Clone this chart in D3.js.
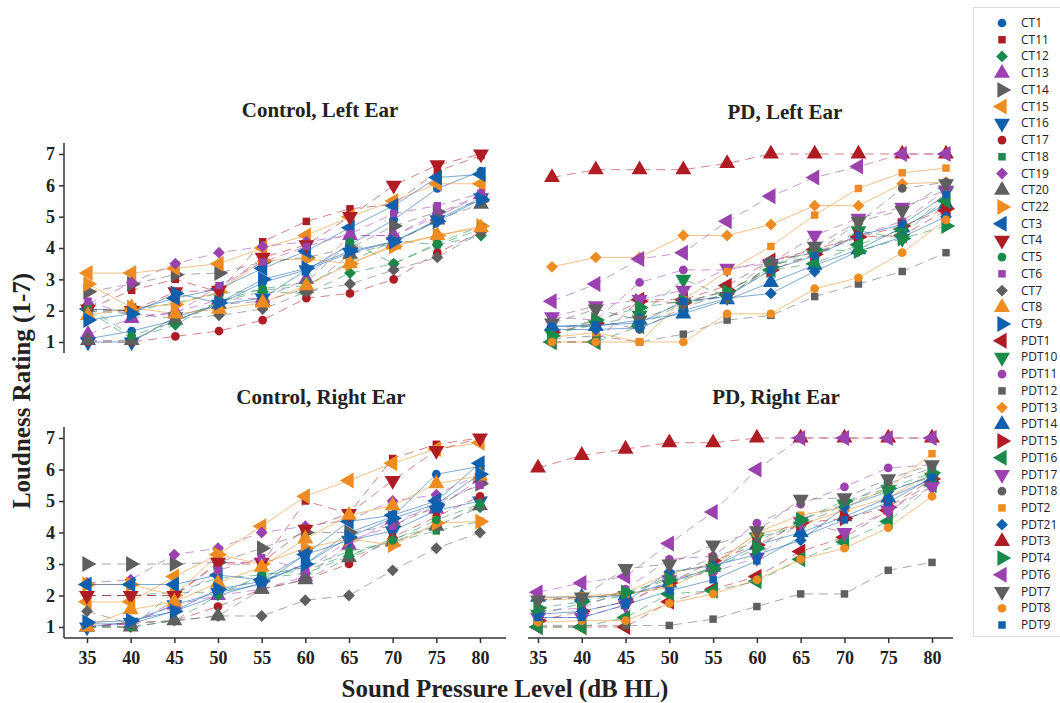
<!DOCTYPE html>
<html>
<head>
<meta charset="utf-8"/>
<script src="https://cdn.jsdelivr.net/npm/d3@7"></script>
<title>Loudness ratings</title>
<style>
body { margin: 0; background: #fff; }
.tick text { font-family: "Liberation Serif", "Times New Roman", serif; font-weight: bold; font-size: 18px; fill: #222; }
.ttl { font-family: "Liberation Serif", "Times New Roman", serif; font-weight: bold; fill: #222; }
.leg text { font-family: "Open Sans", "Noto Sans", sans-serif; font-size: 12px; fill: #222; }
</style>
</head>
<body>
<script>
// x values (dB HL) and y ticks
var levels = [35, 40, 45, 50, 55, 60, 65, 70, 75, 80];
var ratingTicks = [1, 2, 3, 4, 5, 6, 7];

var ctNames = ["CT1","CT11","CT12","CT13","CT14","CT15","CT16","CT17","CT18","CT19","CT20","CT22","CT3","CT4","CT5","CT6","CT7","CT8","CT9"];
var pdNames = ["PDT1","PDT10","PDT11","PDT12","PDT13","PDT14","PDT15","PDT16","PDT17","PDT18","PDT2","PDT21","PDT3","PDT4","PDT6","PDT7","PDT8","PDT9"];

// Control, left ear (one row per ctNames entry)
var ctLeft = [
 [1.1, 1.35, 1.7, 2.2, 2.9, 3.3, 4.1, 4.9, 5.9, 6.45],
 [2.05, 2.65, 3.0, 2.6, 4.2, 4.85, 5.25, 5.4, 6.45, 6.95],
 [2.0, 1.1, 1.55, 2.3, 2.6, 2.55, 3.2, 3.5, 4.1, 4.4],
 [1.25, 1.75, 1.95, 2.35, 2.4, 3.0, 4.4, 4.4, 5.0, 5.7],
 [2.6, 2.85, 3.15, 3.2, 3.55, 3.7, 4.0, 4.7, 5.15, 5.5],
 [3.2, 3.2, 3.35, 3.5, 4.0, 4.4, 5.0, 5.5, 6.05, 6.05],
 [1.0, 1.0, 1.8, 2.2, 2.4, 3.3, 3.85, 4.2, 4.9, 5.6],
 [1.0, 1.0, 1.18, 1.35, 1.7, 2.4, 2.55, 3.0, 3.85, 4.5],
 [2.0, 2.0, 2.25, 2.55, 2.65, 2.8, 3.55, 4.25, 4.1, 4.6],
 [2.2, 2.9, 3.5, 3.85, 4.05, 4.2, 4.4, 4.4, 5.1, 5.7],
 [1.05, 1.05, 1.7, 2.2, 2.3, 2.7, 3.8, 4.15, 4.9, 5.4],
 [2.85, 2.1, 2.2, 2.6, 3.6, 3.65, 3.5, 4.05, 4.4, 4.7],
 [2.05, 2.0, 2.4, 2.7, 3.35, 3.9, 4.65, 5.35, 6.25, 6.35],
 [2.05, 2.0, 2.6, 2.65, 3.7, 4.1, 5.0, 6.0, 6.65, 7.0],
 [2.1, 1.2, 1.65, 2.3, 2.7, 2.9, 4.2, 3.5, 4.15, 4.7],
 [2.3, 1.85, 1.9, 2.8, 3.55, 4.05, 4.45, 5.1, 5.35, 5.75],
 [2.0, 1.9, 1.75, 1.85, 2.05, 2.6, 2.85, 3.3, 3.7, 4.5],
 [1.85, 2.1, 1.9, 2.05, 2.25, 2.8, 3.5, 4.1, 4.4, 4.65],
 [1.7, 1.9, 2.55, 2.25, 3.0, 3.35, 3.9, 4.2, 4.85, 5.55]
];

// Control, right ear
var ctRight = [
 [1.1, 1.1, 1.5, 2.0, 2.4, 3.0, 4.0, 4.5, 5.85, 6.1],
 [2.0, 2.0, 2.0, 3.0, 3.0, 5.0, 4.6, 6.35, 6.8, 7.0],
 [1.0, 1.0, 2.1, 2.1, 2.55, 2.7, 3.25, 3.8, 4.2, 4.8],
 [1.0, 1.1, 1.7, 2.0, 2.2, 2.6, 3.6, 4.4, 4.75, 5.7],
 [3.0, 3.0, 3.0, 3.05, 3.5, 4.0, 4.0, 4.2, 4.85, 5.55],
 [1.8, 1.8, 2.6, 3.3, 4.2, 5.15, 5.65, 6.2, 6.65, 6.85],
 [1.0, 1.15, 1.7, 2.1, 2.35, 3.3, 3.75, 4.05, 4.7, 5.0],
 [1.0, 1.15, 1.2, 1.65, 2.2, 2.5, 3.0, 3.85, 4.5, 5.15],
 [2.0, 2.0, 2.1, 2.55, 2.65, 2.9, 3.4, 3.7, 4.05, 4.35],
 [2.4, 2.5, 3.3, 3.5, 4.0, 4.2, 4.4, 5.0, 5.2, 5.85],
 [1.0, 1.0, 1.2, 1.35, 2.2, 2.5, 3.2, 3.7, 4.2, 4.85],
 [2.35, 2.35, 2.0, 3.3, 3.0, 3.5, 3.8, 3.6, 4.3, 4.35],
 [2.35, 2.35, 2.35, 2.65, 2.5, 3.3, 4.35, 4.55, 5.0, 6.2],
 [2.0, 2.0, 2.0, 3.05, 3.05, 4.1, 4.6, 5.65, 6.6, 7.0],
 [1.0, 1.0, 1.2, 2.0, 2.65, 2.8, 3.3, 3.75, 4.4, 4.9],
 [1.0, 1.1, 1.8, 2.8, 3.2, 2.8, 3.75, 4.2, 4.95, 5.5],
 [1.5, 1.1, 1.2, 1.35, 1.35, 1.85, 2.0, 2.8, 3.5, 4.0],
 [1.0, 1.55, 1.8, 2.4, 2.9, 3.8, 4.55, 4.85, 5.55, 5.8],
 [1.15, 1.2, 1.5, 2.2, 2.45, 3.0, 3.85, 4.45, 4.9, 5.85]
];

// PD, left ear (one row per pdNames entry)
var pdLeft = [
 [1.0, 1.0, 2.35, 2.35, 2.8, 3.6, 3.95, 4.35, 4.4, 5.2],
 [1.25, 1.55, 1.85, 3.0, 2.45, 3.45, 3.75, 4.55, 4.3, 5.8],
 [1.8, 1.7, 2.9, 3.3, 3.3, 3.6, 3.85, 4.4, 4.85, 5.85],
 [1.1, 1.2, 1.0, 1.25, 1.7, 1.85, 2.45, 2.85, 3.25, 3.85],
 [3.4, 3.7, 3.7, 4.4, 4.4, 4.75, 5.35, 5.35, 6.05, 6.1],
 [1.5, 1.5, 1.7, 1.9, 2.35, 2.9, 3.45, 3.95, 4.65, 5.4],
 [1.3, 1.6, 2.3, 2.25, 2.65, 3.3, 3.8, 4.35, 4.7, 5.25],
 [1.0, 1.0, 1.5, 2.25, 2.5, 3.3, 3.5, 4.1, 4.6, 5.5],
 [1.8, 2.15, 2.35, 2.65, 3.35, 3.5, 4.4, 4.95, 5.3, 5.85],
 [1.35, 1.7, 1.4, 2.1, 2.55, 3.6, 3.85, 4.8, 5.9, 6.1],
 [1.15, 1.3, 1.0, 2.35, 3.25, 4.05, 5.05, 5.9, 6.4, 6.55],
 [1.4, 1.4, 1.45, 2.0, 2.4, 2.55, 3.25, 3.9, 4.35, 5.0],
 [6.25, 6.5, 6.5, 6.5, 6.7, 7.0, 7.0, 7.0, 7.0, 7.0],
 [1.2, 1.7, 2.1, 2.3, 2.6, 3.4, 3.95, 3.9, 4.3, 4.7],
 [2.3, 2.85, 3.65, 3.85, 4.85, 5.65, 6.25, 6.6, 7.0, 7.0],
 [1.6, 2.05, 1.7, 2.25, 2.45, 3.4, 4.05, 4.85, 5.2, 6.05],
 [1.0, 1.0, 1.0, 1.0, 1.9, 1.9, 2.7, 3.05, 3.85, 4.9],
 [1.5, 1.55, 1.6, 2.3, 2.45, 3.3, 3.75, 4.4, 4.75, 5.7]
];

// PD, right ear
var pdRight = [
 [1.0, 1.0, 1.0, 1.8, 2.2, 2.6, 3.4, 3.85, 4.7, 5.6],
 [1.4, 1.75, 2.0, 2.35, 2.85, 3.85, 4.2, 4.9, 5.35, 5.75],
 [1.5, 1.6, 2.2, 3.15, 3.25, 4.3, 4.9, 5.45, 6.05, 6.15],
 [1.05, 1.05, 1.05, 1.05, 1.25, 1.65, 2.05, 2.05, 2.8, 3.05],
 [1.85, 1.9, 2.1, 2.7, 3.0, 3.95, 4.25, 4.7, 5.1, 5.9],
 [1.95, 1.95, 2.0, 2.4, 2.9, 3.6, 4.0, 4.5, 5.1, 5.7],
 [1.2, 1.5, 1.8, 2.4, 3.1, 3.6, 4.3, 4.45, 4.8, 5.7],
 [1.0, 1.0, 1.3, 2.05, 2.15, 2.45, 3.15, 3.7, 4.35, 5.5],
 [1.3, 1.3, 1.7, 2.5, 2.75, 3.2, 4.35, 4.0, 4.7, 5.45],
 [1.85, 1.95, 2.0, 2.6, 3.2, 3.7, 4.4, 4.9, 5.55, 6.05],
 [1.9, 2.0, 2.05, 2.25, 2.9, 4.0, 4.55, 4.8, 5.4, 6.5],
 [1.4, 1.5, 1.8, 2.75, 2.95, 3.3, 3.75, 4.8, 5.3, 5.8],
 [6.05, 6.45, 6.65, 6.85, 6.85, 7.0, 7.0, 7.0, 7.0, 7.0],
 [1.6, 1.8, 2.1, 2.5, 2.85, 3.5, 4.4, 5.0, 5.4, 5.9],
 [2.1, 2.4, 2.6, 3.65, 4.65, 6.0, 7.0, 7.0, 7.0, 7.0],
 [1.85, 1.95, 2.85, 3.0, 3.6, 4.05, 5.05, 5.1, 5.7, 6.15],
 [1.15, 1.2, 1.2, 1.75, 2.05, 2.5, 3.15, 3.5, 4.15, 5.15],
 [1.3, 1.3, 1.7, 2.15, 2.5, 3.1, 3.85, 4.4, 4.95, 5.75]
];

var allNames = ctNames.concat(pdNames);
var palette = ["#1060ae", "#b01c24", "#1a8a4a", "#9b42b0", "#5f5f5f", "#ee8c22"];
var shapes = ["circle", "square", "diamond", "up", "right", "left", "down"];

function markerPath(shape) {
  if (shape == "circle") return d3.symbol().type(d3.symbolCircle).size(60)();
  if (shape == "square") return d3.symbol().type(d3.symbolSquare).size(56)();
  if (shape == "diamond") return d3.symbol().type(d3.symbolSquare).size(70)();
  return d3.symbol().type(d3.symbolTriangle).size(110)();
}
var rot = {up: 0, right: 90, down: 180, left: -90, diamond: 45};

var svg = d3.select("body").append("svg")
  .attr("width", 1060).attr("height", 703);

// panels
var panels = [
  {title: "Control, Left Ear", data: ctLeft, offset: 0, xr: [88, 481], yr: [342, 154], tx: 320, ty: 117, yAxis: true, xAxis: false},
  {title: "PD, Left Ear", data: pdLeft, offset: ctNames.length, xr: [552, 946], yr: [342, 154], tx: 785, ty: 119, yAxis: false, xAxis: false},
  {title: "Control, Right Ear", data: ctRight, offset: 0, xr: [87, 480], yr: [627, 438], tx: 321, ty: 404, yAxis: true, xAxis: true, xl: [64, 506]},
  {title: "PD, Right Ear", data: pdRight, offset: ctNames.length, xr: [538, 932], yr: [627, 438], tx: 776, ty: 404, yAxis: false, xAxis: true, xl: [528, 953]}
];

panels.forEach(function(p) {
  var x = d3.scaleLinear().domain([35, 80]).range(p.xr);
  var y = d3.scaleLinear().domain([1, 7]).range(p.yr);
  var g = svg.append("g");

  svg.append("text").attr("class", "ttl")
    .attr("x", p.tx).attr("y", p.ty)
    .attr("text-anchor", "middle").style("font-size", "21px")
    .text(p.title);

  if (p.yAxis) {
    var ya = svg.append("g").attr("transform", "translate(64,0)")
      .call(d3.axisLeft(y).tickValues(ratingTicks).tickFormat(d3.format("d")).tickSize(5).tickPadding(4));
    ya.select(".domain").remove();
    ya.selectAll(".tick line").attr("stroke", "#333").attr("stroke-width", 1.5);
    svg.append("line").attr("x1", 64).attr("x2", 64)
      .attr("y1", y(7) - 11).attr("y2", y(1) + 11)
      .attr("stroke", "#333").attr("stroke-width", 1.5);
  }
  if (p.xAxis) {
    var xa = svg.append("g").attr("transform", "translate(0,638)")
      .call(d3.axisBottom(x).tickValues(levels).tickSize(5).tickPadding(8));
    xa.select(".domain").remove();
    xa.selectAll(".tick line").attr("stroke", "#333").attr("stroke-width", 1.5);
    svg.append("line").attr("x1", p.xl[0]).attr("x2", p.xl[1])
      .attr("y1", 638).attr("y2", 638)
      .attr("stroke", "#333").attr("stroke-width", 1.5);
  }

  var line = d3.line().x(function(d, i) { return x(levels[i]); }).y(function(d) { return y(d); });

  p.data.forEach(function(vals, k) {
    var idx = p.offset + k;
    var col = palette[idx % 6];
    var shp = shapes[idx % 7];
    var dashed = (idx % 6 != 0 && idx % 6 != 5) || (idx % 2 == 1 && idx % 6 == 0);
    g.append("path").attr("d", line(vals))
      .attr("fill", "none").attr("stroke", col)
      .attr("stroke-width", 1).attr("stroke-opacity", 0.55)
      .attr("stroke-dasharray", dashed ? "9,6" : null);
    g.selectAll(null).data(vals).enter().append("path")
      .attr("d", markerPath(shp))
      .attr("transform", function(d, i) {
        return "translate(" + x(levels[i]) + "," + y(d) + ")" + (rot[shp] != null ? " rotate(" + rot[shp] + ")" : "");
      })
      .attr("fill", col);
  });
});

// axis titles
svg.append("text").attr("class", "ttl")
  .attr("transform", "translate(30,391) rotate(-90)")
  .attr("text-anchor", "middle").style("font-size", "25px")
  .text("Loudness Rating (1-7)");
svg.append("text").attr("class", "ttl")
  .attr("x", 505).attr("y", 697)
  .attr("text-anchor", "middle").style("font-size", "25px")
  .text("Sound Pressure Level (dB HL)");

// legend
var leg = svg.append("g").attr("class", "leg");
leg.append("rect").attr("x", 973.5).attr("y", 7.5).attr("width", 95).attr("height", 629)
  .attr("fill", "#fff").attr("stroke", "#dcdcdc");
var rowY = d3.scalePoint().domain(allNames).range([23, 625]);
allNames.forEach(function(nm, idx) {
  var shp = shapes[idx % 7];
  leg.append("path").attr("d", markerPath(shp))
    .attr("transform", "translate(1002," + rowY(nm) + ")" + (rot[shp] != null ? " rotate(" + rot[shp] + ")" : ""))
    .attr("fill", palette[idx % 6]);
  leg.append("text").attr("x", 1021).attr("y", rowY(nm) + 4).text(nm);
});
</script>
</body>
</html>
